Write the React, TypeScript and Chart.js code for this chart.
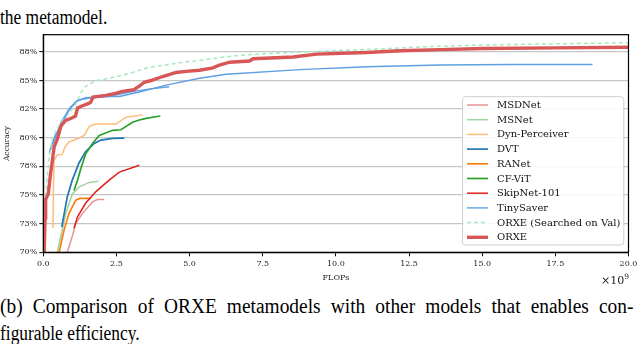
import React, { useEffect, useRef } from "react";
import { Chart, registerables } from "chart.js";

Chart.register(...registerables);

// ---- axis ticks ----
const X_TICKS = [0, 2.5, 5, 7.5, 10, 12.5, 15, 17.5, 20];
const X_TICK_LABELS = ["0.0", "2.5", "5.0", "7.5", "10.0", "12.5", "15.0", "17.5", "20.0"];
const Y_TICKS = [70, 72.5, 75, 77.5, 80, 82.5, 85, 87.5];
const Y_TICK_LABELS = ["70%", "73%", "75%", "78%", "80%", "82%", "85%", "88%"];

// ---- series (FLOPs in 1e9, accuracy in %) ----
const MSDNET_X = [0.82, 0.99, 1.11, 1.34, 1.68, 1.85, 2.08];
const MSDNET_Y = [70.0, 71.4, 72.5, 73.4, 74.4, 74.6, 74.6];

const MSNET_X = [0.48, 0.6, 0.77, 0.99, 1.22, 1.57, 1.89];
const MSNET_Y = [70.0, 71.4, 73.4, 75.1, 75.7, 76.1, 76.2];

const DYN_X = [0.33, 0.35, 0.37, 0.48, 0.65, 0.74, 0.88, 1.11, 1.4, 1.57, 1.8, 2.48, 2.83, 3.4];
const DYN_Y = [72.1, 76.0, 78.05, 78.5, 78.55, 79.2, 79.65, 79.85, 80.2, 81.0, 81.2, 81.2, 81.8, 82.0];

const DVT_X = [0.63, 0.82, 0.99, 1.22, 1.45, 1.74, 1.97, 2.37, 2.77];
const DVT_Y = [72.2, 74.85, 76.3, 77.8, 78.8, 79.5, 79.8, 79.95, 79.97];

const RANET_X = [0.54, 0.71, 0.88, 1.11, 1.25, 1.63];
const RANET_Y = [70.0, 71.95, 73.4, 74.55, 74.7, 74.7];

const CFVIT_X = [1.05, 1.17, 1.28, 1.45, 1.68, 1.91, 2.37, 2.65, 3.05, 3.28, 3.51, 4.0];
const CFVIT_Y = [75.4, 76.3, 77.3, 78.6, 79.5, 80.2, 80.65, 80.7, 81.35, 81.55, 81.7, 81.9];

const SKIPNET_X = [1.05, 1.17, 1.45, 1.8, 2.25, 2.6, 3.28];
const SKIPNET_Y = [72.1, 73.1, 74.3, 75.3, 76.3, 77.0, 77.6];

const TINY_X = [0.2, 0.4, 0.6, 0.65, 0.88, 1.11, 1.45, 2.14, 2.6, 3.28, 4.2, 5.34, 6.25, 8.77, 11.06, 13.57, 16.0, 18.77];
const TINY_Y = [78.7, 80.2, 81.0, 81.2, 82.4, 83.15, 83.5, 83.6, 83.6, 84.0, 84.6, 85.2, 85.55, 85.95, 86.2, 86.35, 86.4, 86.4];

const TINY2_X = [0.25, 0.6, 0.9, 1.2, 1.6, 2.2, 2.6, 3.1, 3.6, 4.3];
const TINY2_Y = [79.0, 81.3, 82.6, 83.3, 83.5, 83.6, 83.8, 84.05, 84.25, 84.45];

const ORXE_VAL_X = [0.03, 0.08, 0.15, 0.2, 0.31, 0.45, 0.65, 0.9, 1.11, 1.28, 1.45, 1.63, 1.8, 2.25, 2.6, 3.05, 3.28, 3.62, 4.31, 4.65, 5.45, 6.02, 6.71, 8.0, 9.9, 11.5, 13.0, 15.0, 17.5, 20.0];
const ORXE_VAL_Y = [70.0, 74.8, 77.0, 78.3, 79.9, 80.7, 81.4, 82.2, 82.9, 83.95, 84.5, 84.75, 85.0, 85.2, 85.4, 85.7, 85.9, 86.15, 86.4, 86.55, 86.8, 87.0, 87.2, 87.4, 87.6, 87.75, 87.95, 88.1, 88.2, 88.3];

const ORXE_X = [0.03, 0.06, 0.08, 0.17, 0.25, 0.31, 0.37, 0.48, 0.6, 0.75, 0.99, 1.1, 1.17, 1.34, 1.55, 1.62, 1.7, 2.14, 2.5, 2.71, 3.1, 3.28, 3.45, 3.68, 4.08, 4.54, 4.88, 5.34, 5.8, 6.02, 6.37, 7.05, 7.17, 8.54, 9.34, 11.06, 12.2, 13.57, 15.0, 17.5, 20.0];
const ORXE_Y = [70.0, 73.0, 74.6, 75.1, 76.9, 78.0, 79.2, 79.9, 81.0, 81.5, 81.75, 81.9, 82.6, 82.8, 83.0, 83.1, 83.55, 83.7, 83.9, 84.05, 84.2, 84.5, 84.85, 85.0, 85.35, 85.7, 85.8, 85.9, 86.1, 86.35, 86.6, 86.7, 86.9, 87.05, 87.3, 87.45, 87.6, 87.7, 87.8, 87.85, 87.9];

type Series = { label: string; xs: number[]; ys: number[]; color: string; width: number; dash?: number[]; legend: boolean };

const SERIES: Series[] = [
  { label: "MSDNet", xs: MSDNET_X, ys: MSDNET_Y, color: "#ea9393", width: 1.5, legend: true },
  { label: "MSNet", xs: MSNET_X, ys: MSNET_Y, color: "#9fd39f", width: 1.5, legend: true },
  { label: "Dyn-Perceiver", xs: DYN_X, ys: DYN_Y, color: "#ffbb78", width: 1.5, legend: true },
  { label: "DVT", xs: DVT_X, ys: DVT_Y, color: "#1f77b4", width: 1.7, legend: true },
  { label: "RANet", xs: RANET_X, ys: RANET_Y, color: "#ff7f0e", width: 1.7, legend: true },
  { label: "CF-ViT", xs: CFVIT_X, ys: CFVIT_Y, color: "#2ca02c", width: 1.7, legend: true },
  { label: "SkipNet-101", xs: SKIPNET_X, ys: SKIPNET_Y, color: "#e0201f", width: 1.5, legend: true },
  { label: "TinySaver", xs: TINY_X, ys: TINY_Y, color: "#5f9fe2", width: 1.4, legend: true },
  { label: "ORXE (Searched on Val)", xs: ORXE_VAL_X, ys: ORXE_VAL_Y, color: "#a8e8c0", width: 1.5, dash: [4, 3], legend: true },
  { label: "ORXE", xs: ORXE_X, ys: ORXE_Y, color: "#d95656", width: 3.4, legend: true },
  { label: "TinySaver", xs: TINY2_X, ys: TINY2_Y, color: "#5f9fe2", width: 1.4, legend: false },
];

const FONT = "DejaVu Serif";

const frameLegendPlugin = {
  id: "frameLegend",
  afterDatasetsDraw(chart: any) {
    const { ctx, chartArea } = chart;
    const { left, top, right, bottom } = chartArea;
    ctx.save();
    ctx.strokeStyle = "#000";
    ctx.lineWidth = 1.2;
    ctx.strokeRect(left, top, right - left, bottom - top);

    // legend box (inside axes, lower right)
    const bx = right - 166;
    const by = top + 62;
    const bw = 161.3;
    const bh = 148.3;
    ctx.beginPath();
    (ctx as any).roundRect(bx, by, bw, bh, 3);
    ctx.fillStyle = "rgba(255,255,255,0.85)";
    ctx.fill();
    ctx.strokeStyle = "#cfcfcf";
    ctx.lineWidth = 1;
    ctx.stroke();

    ctx.font = `10px "${FONT}"`;
    ctx.textBaseline = "middle";
    ctx.textAlign = "left";
    const items = SERIES.filter((s) => s.legend);
    items.forEach((s, i) => {
      const cy = by + 8.3 + i * 14.7;
      ctx.beginPath();
      ctx.strokeStyle = s.color;
      ctx.lineWidth = s.width;
      ctx.setLineDash(s.dash || []);
      ctx.moveTo(bx + 4.5, cy);
      ctx.lineTo(bx + 25.5, cy);
      ctx.stroke();
      ctx.setLineDash([]);
      ctx.fillStyle = "#111";
      ctx.fillText(s.label, bx + 34.5, cy + 0.5);
    });
    ctx.restore();
  },
};

function ChartView() {
  const ref = useRef<HTMLCanvasElement | null>(null);
  useEffect(() => {
    if (!ref.current) return;
    const n = SERIES.length;
    const datasets = SERIES.map((s, i) => ({
      label: s.label,
      data: s.xs.map((x, k) => ({ x, y: s.ys[k] })),
      borderColor: s.color,
      backgroundColor: s.color,
      borderWidth: s.width,
      borderDash: s.dash || [],
      pointRadius: 0,
      tension: 0,
      fill: false,
      order: i === n - 1 ? n - 7 : n - i,
    }));
    const chart = new Chart(ref.current, {
      type: "line",
      data: { datasets },
      plugins: [frameLegendPlugin],
      options: {
        animation: false,
        responsive: false,
        devicePixelRatio: 1,
        parsing: false as any,
        layout: { padding: { left: 0, right: 11.5, top: 4.7, bottom: 0 }, autoPadding: false } as any,
        plugins: { legend: { display: false }, tooltip: { enabled: false }, title: { display: false } },
        scales: {
          x: {
            type: "linear",
            min: 0,
            max: 20,
            afterBuildTicks: (s: any) => {
              s.ticks = X_TICKS.map((v) => ({ value: v }));
            },
            afterFit: (s: any) => {
              s.height = 37.7;
              s.paddingLeft = 0;
              s.paddingRight = 0;
            },
            ticks: {
              callback: (v: any) => X_TICK_LABELS[X_TICKS.indexOf(Number(v))],
              font: { family: FONT, size: 8 },
              color: "#222",
              padding: 3,
              maxRotation: 0,
              autoSkip: false,
            },
            grid: { display: true, drawOnChartArea: false, drawTicks: true, tickLength: 4, tickColor: "#000", tickWidth: 1 },
            border: { display: true, color: "#000", width: 1.2 },
            title: { display: true, text: "FLOPs", font: { family: FONT, size: 8 }, color: "#222", padding: { top: 0, bottom: 7.5 } },
          },
          y: {
            type: "linear",
            min: 70,
            max: 89,
            afterBuildTicks: (s: any) => {
              s.ticks = Y_TICKS.map((v) => ({ value: v }));
            },
            afterFit: (s: any) => {
              s.width = 43.3;
              s.paddingTop = 0;
              s.paddingBottom = 0;
            },
            ticks: {
              callback: (v: any) => Y_TICK_LABELS[Y_TICKS.indexOf(Number(v))],
              font: { family: FONT, size: 8 },
              color: "#222",
              padding: 2,
              autoSkip: false,
            },
            grid: { display: true, drawOnChartArea: true, color: "#c6c6c6", lineWidth: 1.3, drawTicks: true, tickLength: 4, tickColor: "#000", tickWidth: 1 },
            border: { display: true, color: "#000", width: 1.2 },
            title: { display: true, text: "Accuracy", font: { family: FONT, size: 7.5 }, color: "#222", padding: { top: 2.5, bottom: 0 } },
          },
        },
      } as any,
    });
    return () => chart.destroy();
  }, []);
  return <canvas ref={ref} width={640} height={260} style={{ position: "absolute", left: 0, top: 30, width: 640, height: 260 }} />;
}

const captionStyle: React.CSSProperties = {
  position: "absolute",
  left: 0,
  fontFamily: '"Liberation Serif", serif',
  fontSize: "20px",
  lineHeight: "20px",
  color: "#000",
  transform: "scaleX(0.87)",
  transformOrigin: "left top",
  whiteSpace: "nowrap",
};

export default function App() {
  return (
    <div style={{ position: "absolute", left: 0, top: 0, width: 640, height: 344, background: "#fff", overflow: "hidden" }}>
      <div style={{ ...captionStyle, top: 7 }}>the metamodel.</div>
      <ChartView />
      <div style={{ position: "absolute", left: 601, top: 270, fontFamily: FONT, fontSize: "11px", lineHeight: "14px", color: "#222" }}>
        ×10<sup style={{ fontSize: "7.5px", verticalAlign: "5px" }}>9</sup>
      </div>
      <div
        style={{
          ...captionStyle,
          top: 296,
          width: 653,
          transform: "scaleX(0.97)",
          whiteSpace: "normal",
          textAlign: "justify",
          textAlignLast: "justify" as any,
        }}
      >
        (b) Comparison of ORXE metamodels with other models that enables con-
      </div>
      <div style={{ ...captionStyle, top: 323 }}>figurable efficiency.</div>
    </div>
  );
}
